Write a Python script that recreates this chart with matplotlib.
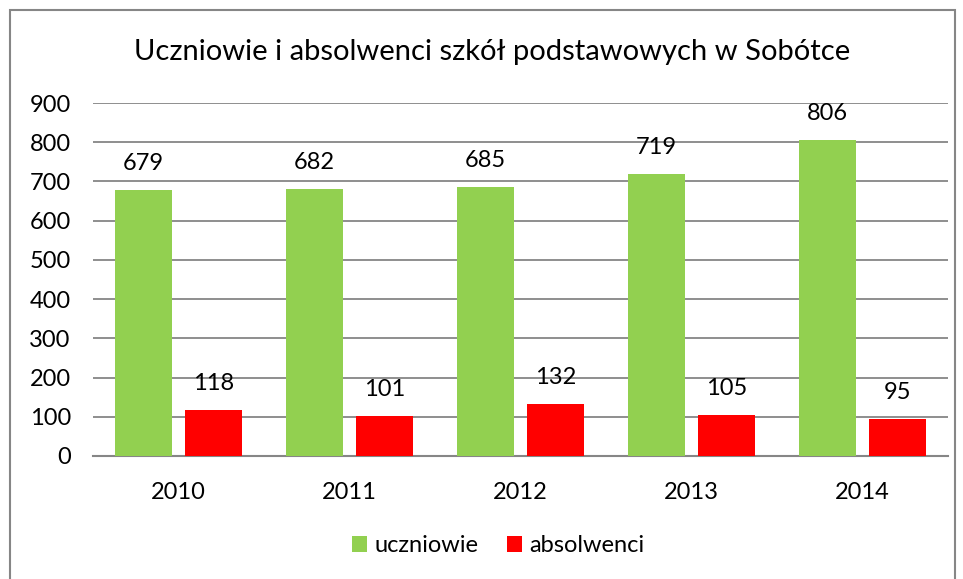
import matplotlib
matplotlib.use("Agg")
import matplotlib.pyplot as plt
from matplotlib.patches import Rectangle
import numpy as np

years = ["2010", "2011", "2012", "2013", "2014"]
uczniowie = [679, 682, 685, 719, 806]
absolwenci = [118, 101, 132, 105, 95]
series_names = ["uczniowie", "absolwenci"]
title = "Uczniowie i absolwenci szkół podstawowych w Sobótce"
yticks = [0, 100, 200, 300, 400, 500, 600, 700, 800, 900]

plt.rcParams['font.family'] = ['Lato', 'DejaVu Sans']

W, H = 963, 579
fig = plt.figure(figsize=(W/100, H/100), dpi=100)
ax = fig.add_axes([93/W, 1-456/H, (948-93)/W, (456-103)/H])

x = np.arange(len(years))
bw = 0.333
off = 0.205
b1 = ax.bar(x - off, uczniowie, bw, color="#92D050", label=series_names[0], zorder=3)
b2 = ax.bar(x + off, absolwenci, bw, color="#FF0000", label=series_names[1], zorder=3)

for bars, vals in ((b1, uczniowie), (b2, absolwenci)):
    for r, v in zip(bars, vals):
        ax.annotate(str(v), (r.get_x() + r.get_width()/2, v), xytext=(0, 11.5),
                    textcoords="offset points", ha="center", va="bottom",
                    fontsize=17, color="black")

ax.set_xlim(-0.5, 4.5)
ax.set_ylim(0, 900)
ax.set_yticks(yticks)
ax.set_xticks(x)
ax.set_xticklabels(years)
ax.tick_params(axis="both", length=0, labelsize=17, colors="black")
ax.tick_params(axis="y", pad=16)
ax.tick_params(axis="x", pad=19)
ax.grid(axis="y", color="#868686", linewidth=1.3, zorder=0)
for s in ["top", "right", "left"]:
    ax.spines[s].set_visible(False)
ax.spines["bottom"].set_color("#868686")
ax.spines["bottom"].set_linewidth(1.5)

fig.text(492/W, 1-52/H, title, ha="center", va="center", fontsize=21)

leg = fig.legend(handles=[b1, b2], labels=series_names, loc="center",
                 bbox_to_anchor=(498/W, 1-546/H), ncol=2, frameon=False,
                 fontsize=17, handlelength=0.65, handleheight=0.65,
                 handletextpad=0.3, columnspacing=1.2)

fig.patches.append(Rectangle((10/W, -0.05), (955-10)/W, 1.05 - 10/H,
                             transform=fig.transFigure, fill=False,
                             edgecolor="#868686", linewidth=1.5))

fig.savefig("out.png", dpi=100)
